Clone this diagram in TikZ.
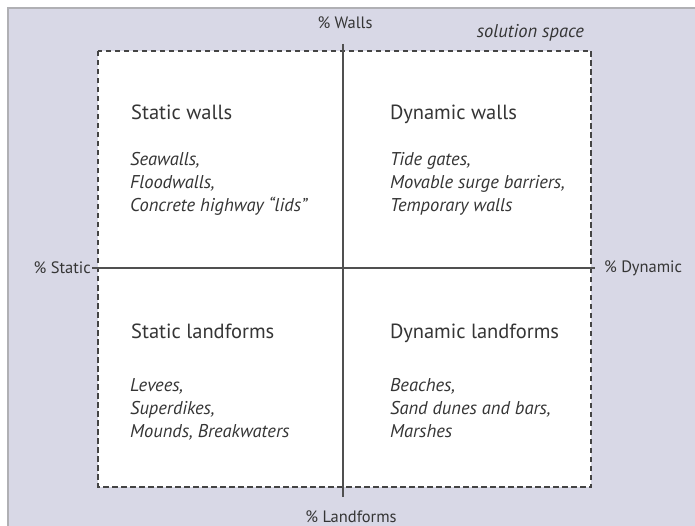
\documentclass[tikz,border=0pt]{standalone}
\usepackage{fontspec}
\setmainfont{PT Sans}
\begin{document}
\begin{tikzpicture}[x=1pt,y=-1pt,
  txt/.style={text=textgray, inner sep=0pt, anchor=base west},
  title/.style={txt, font=\fontsize{20.5}{24}\selectfont},
  item/.style={txt, font=\fontsize{18.5}{23}\selectfont\itshape},
  axlabel/.style={text=textgray, inner sep=0pt, font=\fontsize{16.5}{19}\selectfont},
  axis/.style={draw=axisgray, line width=1.3pt},
  solbox/.style={draw=dashgray, fill=white, line width=1.5pt, dash pattern=on 5.5pt off 3.5pt}
]
\definecolor{textgray}{HTML}{353535}
\definecolor{lav}{HTML}{D8D8E6}
\definecolor{bordergray}{HTML}{B0B0B4}
\definecolor{axisgray}{HTML}{505050}
\definecolor{dashgray}{HTML}{444444}
\useasboundingbox (0,0) rectangle (695,526);
\fill[white] (0,0) rectangle (695,526);
\fill[lav] (8,8) rectangle (695,526);
\draw[bordergray, line width=1.5pt] (8,526) -- (8,8) -- (695,8);
% solution space box
\draw[solbox] (98,51) rectangle (591,487);
% axes
\coordinate (vt) at (343,44);
\coordinate (vb) at (343,497);
\coordinate (hl) at (92,268);
\coordinate (hr) at (595,268);
\draw[axis] (vt) -- (vb);
\draw[axis] (hl) -- (hr);
% axis labels
\node[axlabel, anchor=base] (walls) at (345,29) {\% Walls};
\node[axlabel, anchor=base] (landf) at (351,522) {\% Landforms};
\node[axlabel, anchor=east] (static) at (91,268) {\% Static};
\node[axlabel, anchor=west] (dynamic) at (604,268) {\% Dynamic};
\node[txt, anchor=base east, font=\fontsize{18.5}{22}\selectfont\itshape] (sol) at (584,38) {solution space};
% quadrants
\node[title] (swt) at (131,120) {Static walls};
\node[item] (sw1) at (130,166) {Seawalls,};
\node[item] (sw2) at (130,189) {Floodwalls,};
\node[item] (sw3) at (130,212) {Concrete highway ``lids''};
\node[title] (dwt) at (390,120) {Dynamic walls};
\node[item] (dw1) at (390,166) {Tide gates,};
\node[item] (dw2) at (390,189) {Movable surge barriers,};
\node[item] (dw3) at (390,212) {Temporary walls};
\node[title] (slt) at (131,338) {Static landforms};
\node[item] (sl1) at (130,391) {Levees,};
\node[item] (sl2) at (130,414) {Superdikes,};
\node[item] (sl3) at (130,437) {Mounds, Breakwaters};
\node[title] (dlt) at (390,338) {Dynamic landforms};
\node[item] (dl1) at (390,391) {Beaches,};
\node[item] (dl2) at (390,414) {Sand dunes and bars,};
\node[item] (dl3) at (390,437) {Marshes};
\end{tikzpicture}
\end{document}
